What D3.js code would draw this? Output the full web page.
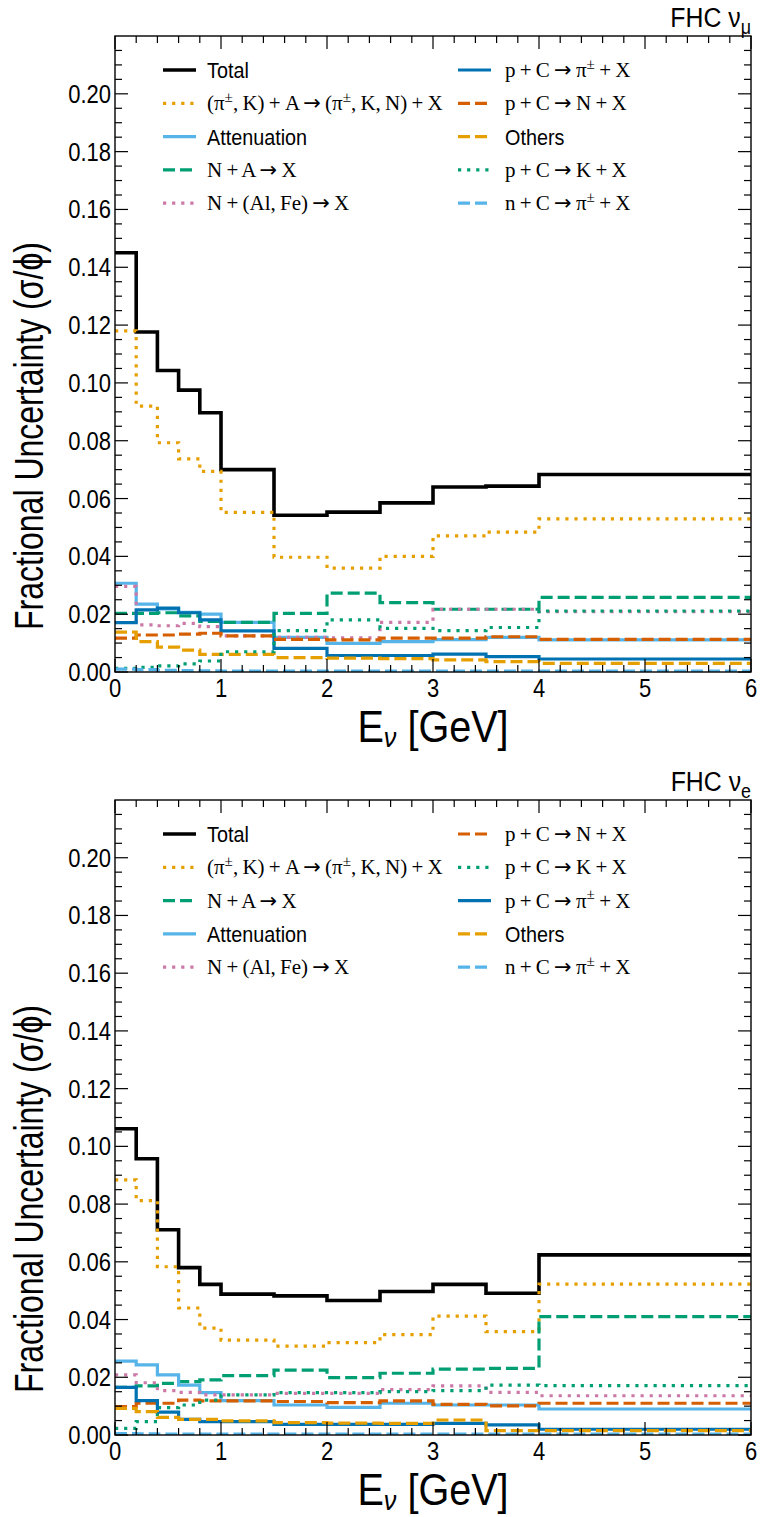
<!DOCTYPE html>
<html>
<head>
<meta charset="utf-8">
<script src="https://cdn.jsdelivr.net/npm/d3@7"></script>
<style>
  body { margin: 0; background: #fff; }
  svg { display: block; }
</style>
</head>
<body>
<svg id="chart" width="761" height="1517"></svg>
<script>
// ---- binning and axes ----
const binEdges = [0, 0.2, 0.4, 0.6, 0.8, 1.0, 1.5, 2.0, 2.5, 3.0, 3.5, 4.0, 6.0];
const xTickValues = [0, 1, 2, 3, 4, 5, 6];
const yTickValues = [0, 0.02, 0.04, 0.06, 0.08, 0.10, 0.12, 0.14, 0.16, 0.18, 0.20];
const yTickLabels = ["0.00", "0.02", "0.04", "0.06", "0.08", "0.10", "0.12", "0.14", "0.16", "0.18", "0.20"];
const yMax = 0.22;

// ---- FHC numu fractional uncertainties per bin ----
const numuTotal  = [0.1450, 0.1176, 0.1043, 0.0975, 0.0897, 0.0700, 0.0542, 0.0553, 0.0585, 0.0640, 0.0643, 0.0683];
const numuPiKA   = [0.1180, 0.0920, 0.0793, 0.0737, 0.0694, 0.0552, 0.0397, 0.0359, 0.0400, 0.0471, 0.0484, 0.0530];
const numuAtten  = [0.0307, 0.0235, 0.0218, 0.0206, 0.0200, 0.0172, 0.0120, 0.0099, 0.0105, 0.0112, 0.0120, 0.0111];
const numuNA     = [0.0203, 0.0203, 0.0205, 0.0194, 0.0175, 0.0172, 0.0203, 0.0273, 0.0240, 0.0217, 0.0217, 0.0258];
const numuNAlFe  = [0.0296, 0.0163, 0.0160, 0.0168, 0.0157, 0.0125, 0.0120, 0.0118, 0.0172, 0.0217, 0.0217, 0.0209];
const numuPCPi   = [0.0171, 0.0215, 0.0221, 0.0205, 0.0180, 0.0142, 0.0082, 0.0057, 0.0057, 0.0062, 0.0053, 0.0045];
const numuPCN    = [0.0117, 0.0128, 0.0128, 0.0131, 0.0134, 0.0125, 0.0113, 0.0111, 0.0117, 0.0117, 0.0122, 0.0113];
const numuOthers = [0.0138, 0.0105, 0.0086, 0.0076, 0.0061, 0.0061, 0.0050, 0.0048, 0.0046, 0.0042, 0.0036, 0.0030];
const numuPCK    = [0.0013, 0.0016, 0.0021, 0.0028, 0.0038, 0.0070, 0.0143, 0.0180, 0.0151, 0.0143, 0.0154, 0.0211];
const numuNCPi   = [0.0010, 0.0008, 0.0006, 0.0005, 0.0004, 0.0003, 0.0003, 0.0003, 0.0003, 0.0003, 0.0003, 0.0003];

// ---- FHC nue fractional uncertainties per bin ----
const nueTotal  = [0.1061, 0.0957, 0.0711, 0.0580, 0.0522, 0.0488, 0.0482, 0.0466, 0.0497, 0.0522, 0.0491, 0.0624];
const nuePiKA   = [0.0884, 0.0812, 0.0583, 0.0440, 0.0370, 0.0329, 0.0308, 0.0320, 0.0348, 0.0412, 0.0358, 0.0523];
const nueNA     = [0.0165, 0.0170, 0.0179, 0.0185, 0.0191, 0.0206, 0.0225, 0.0199, 0.0214, 0.0228, 0.0231, 0.0410];
const nueAtten  = [0.0256, 0.0243, 0.0208, 0.0173, 0.0147, 0.0119, 0.0104, 0.0096, 0.0110, 0.0104, 0.0104, 0.0090];
const nueNAlFe  = [0.0208, 0.0181, 0.0154, 0.0148, 0.0139, 0.0139, 0.0144, 0.0144, 0.0157, 0.0170, 0.0148, 0.0136];
const nuePCN    = [0.0098, 0.0110, 0.0110, 0.0121, 0.0118, 0.0118, 0.0116, 0.0112, 0.0118, 0.0106, 0.0101, 0.0110];
const nuePCK    = [0.0023, 0.0046, 0.0095, 0.0104, 0.0121, 0.0139, 0.0147, 0.0147, 0.0150, 0.0154, 0.0173, 0.0171];
const nuePCPi   = [0.0165, 0.0119, 0.0079, 0.0054, 0.0046, 0.0046, 0.0037, 0.0037, 0.0037, 0.0040, 0.0035, 0.0020];
const nueOthers = [0.0092, 0.0081, 0.0061, 0.0054, 0.0054, 0.0049, 0.0043, 0.0041, 0.0040, 0.0052, 0.0015, 0.0015];
const nueNCPi   = [0.0005, 0.0004, 0.0003, 0.0003, 0.0003, 0.0003, 0.0003, 0.0003, 0.0003, 0.0003, 0.0003, 0.0003];

// ---- labels (^{...} superscript, _{...} subscript) ----
const labelTotal  = "Total";
const labelPiKA   = "(π^{±}, K) + A → (π^{±}, K, N) + X";
const labelAtten  = "Attenuation";
const labelNA     = "N + A → X";
const labelNAlFe  = "N + (Al, Fe) → X";
const labelPCPi   = "p + C → π^{±} + X";
const labelPCN    = "p + C → N + X";
const labelOthers = "Others";
const labelPCK    = "p + C → K + X";
const labelNCPi   = "n + C → π^{±} + X";

// ---- line styles ----
const styleTotal  = { color: "#000000", dash: null,  width: 3.6, serif: false };
const stylePiKA   = { color: "#E69F00", dash: "dot", width: 3.2, serif: true };
const styleAtten  = { color: "#56B4E9", dash: null,  width: 3.2, serif: false };
const styleNA     = { color: "#009E73", dash: "dash", width: 3.2, serif: true };
const styleNAlFe  = { color: "#CC79A7", dash: "dot", width: 3.2, serif: true };
const stylePCPi   = { color: "#0072B2", dash: null,  width: 3.2, serif: true };
const stylePCN    = { color: "#D55E00", dash: "dash", width: 3.2, serif: true };
const styleOthers = { color: "#E69F00", dash: "dash", width: 3.2, serif: false };
const stylePCK    = { color: "#009E73", dash: "dot", width: 3.2, serif: true };
const styleNCPi   = { color: "#56B4E9", dash: "dash", width: 3.2, serif: true };

const dashArrays = { dash: "12,5", dot: "3.2,5.9" };

const mk = (label, values, style) => ({ label, values, style });

const panels = [
  {
    top: 36, bottom: 672, title: "FHC ν_{μ}",
    series: [
      mk(labelTotal, numuTotal, styleTotal),
      mk(labelPiKA, numuPiKA, stylePiKA),
      mk(labelAtten, numuAtten, styleAtten),
      mk(labelNA, numuNA, styleNA),
      mk(labelNAlFe, numuNAlFe, styleNAlFe),
      mk(labelPCPi, numuPCPi, stylePCPi),
      mk(labelPCN, numuPCN, stylePCN),
      mk(labelOthers, numuOthers, styleOthers),
      mk(labelPCK, numuPCK, stylePCK),
      mk(labelNCPi, numuNCPi, styleNCPi)
    ]
  },
  {
    top: 800, bottom: 1435, title: "FHC ν_{e}",
    series: [
      mk(labelTotal, nueTotal, styleTotal),
      mk(labelPiKA, nuePiKA, stylePiKA),
      mk(labelNA, nueNA, styleNA),
      mk(labelAtten, nueAtten, styleAtten),
      mk(labelNAlFe, nueNAlFe, styleNAlFe),
      mk(labelPCN, nuePCN, stylePCN),
      mk(labelPCK, nuePCK, stylePCK),
      mk(labelPCPi, nuePCPi, stylePCPi),
      mk(labelOthers, nueOthers, styleOthers),
      mk(labelNCPi, nueNCPi, styleNCPi)
    ]
  }
];

const SANS = "'Liberation Sans', Arial, sans-serif";
const SERIF = "'Liberation Serif', 'DejaVu Serif', serif";
const ARROW_FONT = "'DejaVu Sans', sans-serif";

const svg = d3.select("#chart");
const plotLeft = 115, plotRight = 751;

const x = d3.scaleLinear().domain([0, 6]).range([plotLeft, plotRight]);

// Write a string with ^{..} / _{..} markup as tspans; arrows get their own font
function richText(sel, str, baseSize) {
  const re = /([\^_])\{([^}]*)\}/g;
  let last = 0, m;
  const parts = [];
  const pushPlain = s => s.split(/(→)/).filter(t => t.length).forEach(t => parts.push({ t, k: null }));
  while ((m = re.exec(str)) !== null) {
    if (m.index > last) pushPlain(str.slice(last, m.index));
    parts.push({ t: m[2], k: m[1] });
    last = re.lastIndex;
  }
  if (last < str.length) pushPlain(str.slice(last));
  let shift = 0;
  parts.forEach(p => {
    const ts = sel.append("tspan").text(p.t);
    let target = 0;
    if (p.k === "^") { target = -0.4 * baseSize; ts.attr("font-size", baseSize * 0.72); }
    if (p.k === "_") { target = 0.25 * baseSize; ts.attr("font-size", baseSize * 0.72); }
    if (p.t === "→") ts.attr("font-family", ARROW_FONT);
    if (target !== shift) { ts.attr("dy", target - shift); shift = target; }
  });
  return sel;
}

// text placed through a transform so it can be narrowed horizontally
function narrowText(parent, px, py, sx, rot) {
  const r = rot ? ` rotate(${rot})` : "";
  return parent.append("text")
    .attr("transform", `translate(${px},${py})${r} scale(${sx},1)`);
}

panels.forEach((p, pi) => {
  const y = d3.scaleLinear().domain([0, yMax]).range([p.bottom, p.top]);
  const g = svg.append("g");

  const clipId = "clip" + pi;
  svg.append("clipPath").attr("id", clipId)
    .append("rect").attr("x", plotLeft).attr("y", p.top)
    .attr("width", plotRight - plotLeft).attr("height", p.bottom - p.top);

  // step histograms
  const line = d3.line()
    .x(d => x(d[0])).y(d => y(d[1]))
    .curve(d3.curveStepAfter);
  const lines = g.append("g").attr("clip-path", `url(#${clipId})`);
  p.series.forEach(s => {
    const pts = binEdges.map((e, i) => [e, s.values[Math.min(i, s.values.length - 1)]]);
    lines.append("path")
      .attr("d", line(pts))
      .attr("fill", "none")
      .attr("stroke", s.style.color)
      .attr("stroke-width", s.style.width)
      .attr("stroke-dasharray", s.style.dash ? dashArrays[s.style.dash] : null)
      .attr("stroke-linejoin", "miter");
  });

  // frame
  g.append("rect")
    .attr("x", plotLeft).attr("y", p.top)
    .attr("width", plotRight - plotLeft).attr("height", p.bottom - p.top)
    .attr("fill", "none").attr("stroke", "#000").attr("stroke-width", 1.4);

  // inward ticks on all four sides
  const xMinor = d3.range(0, 6.0001, 0.2).filter(v => Math.abs(v - Math.round(v)) > 1e-6);
  const yMinor = d3.range(0, yMax + 1e-9, 0.005).filter(v => Math.abs(v / 0.02 - Math.round(v / 0.02)) > 1e-6);
  const ticks = g.append("g").attr("stroke", "#000").attr("stroke-width", 1.2);
  const majorLen = 13, minorLen = 7;
  xTickValues.forEach(v => {
    ticks.append("line").attr("x1", x(v)).attr("x2", x(v)).attr("y1", p.bottom).attr("y2", p.bottom - majorLen);
    ticks.append("line").attr("x1", x(v)).attr("x2", x(v)).attr("y1", p.top).attr("y2", p.top + majorLen);
  });
  xMinor.forEach(v => {
    ticks.append("line").attr("x1", x(v)).attr("x2", x(v)).attr("y1", p.bottom).attr("y2", p.bottom - minorLen);
    ticks.append("line").attr("x1", x(v)).attr("x2", x(v)).attr("y1", p.top).attr("y2", p.top + minorLen);
  });
  yTickValues.forEach(v => {
    ticks.append("line").attr("x1", plotLeft).attr("x2", plotLeft + majorLen).attr("y1", y(v)).attr("y2", y(v));
    ticks.append("line").attr("x1", plotRight).attr("x2", plotRight - majorLen).attr("y1", y(v)).attr("y2", y(v));
  });
  yMinor.forEach(v => {
    ticks.append("line").attr("x1", plotLeft).attr("x2", plotLeft + minorLen).attr("y1", y(v)).attr("y2", y(v));
    ticks.append("line").attr("x1", plotRight).attr("x2", plotRight - minorLen).attr("y1", y(v)).attr("y2", y(v));
  });

  // tick labels
  const tl = g.append("g").attr("font-family", SANS).attr("font-size", 25).attr("fill", "#000");
  xTickValues.forEach(v => {
    narrowText(tl, x(v), p.bottom + 25, 0.88).attr("text-anchor", "middle").text(String(v));
  });
  yTickValues.forEach((v, i) => {
    narrowText(tl, plotLeft - 4, y(v) + 9, 0.88).attr("text-anchor", "end").text(yTickLabels[i]);
  });

  // axis titles
  const xl = narrowText(g, 433, p.bottom + 70, 0.9)
    .attr("text-anchor", "middle").attr("font-family", SANS).attr("font-size", 44);
  xl.append("tspan").text("E");
  xl.append("tspan").text("ν").attr("font-size", 28).attr("font-style", "italic").attr("dy", 5);
  xl.append("tspan").text(" [GeV]").attr("dy", -5);

  narrowText(g, 43, p.bottom - 236, 0.8, -90)
    .attr("text-anchor", "middle").attr("font-family", SANS).attr("font-size", 40)
    .text("Fractional Uncertainty (σ/ϕ)");

  // panel title
  const tt = narrowText(g, plotRight, p.top - 9, 0.92)
    .attr("text-anchor", "end").attr("font-family", SANS).attr("font-size", 27);
  richText(tt, p.title, 27);

  // legend: two columns of five entries
  const rowY0 = p.top + 34, rowGap = 33.3;
  p.series.forEach((s, i) => {
    const col = Math.floor(i / 5), row = i % 5;
    const yy = rowY0 + row * rowGap;
    const lx0 = col === 0 ? 163 : 458;
    const lx1 = lx0 + 33;
    const tx = col === 0 ? 207 : 505;
    g.append("line")
      .attr("x1", lx0).attr("x2", lx1).attr("y1", yy).attr("y2", yy)
      .attr("stroke", s.style.color).attr("stroke-width", s.style.width)
      .attr("stroke-dasharray", s.style.dash ? dashArrays[s.style.dash] : null);
    if (s.style.serif) {
      const t = g.append("text")
        .attr("x", tx).attr("y", yy + 7)
        .attr("font-family", SERIF).attr("font-size", 21)
        .attr("word-spacing", -1);
      richText(t, s.label, 21);
    } else {
      narrowText(g, tx, yy + 8, 0.9)
        .attr("font-family", SANS).attr("font-size", 22)
        .text(s.label);
    }
  });
});
</script>
</body>
</html>
